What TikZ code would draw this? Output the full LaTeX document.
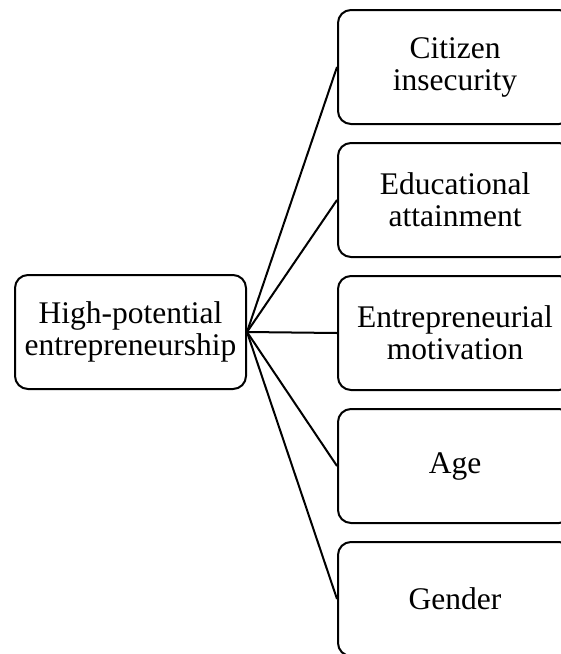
\documentclass[tikz,border=0pt]{standalone}
\usepackage{fontspec}
\setmainfont{Liberation Serif}
\usetikzlibrary{calc, positioning}
\tikzset{
  factor/.style={draw, line width=2pt, rounded corners=13pt, inner sep=4pt,
    minimum width=234pt, minimum height=114pt, align=center,
    font=\fontsize{31.5}{32}\selectfont},
  link/.style={line width=2pt},
}
\begin{document}
\begin{tikzpicture}[x=1pt,y=1pt]
    \useasboundingbox (0,0) rectangle (561,-654);
    \clip (0,0) rectangle (561,-654);

    % outcome on the left
    \node[factor, minimum width=231pt] (hpe) at (130.5,-332) {High-potential\\entrepreneurship};

    % determinants on the right
    \foreach \i/\txt in {1/{Citizen\\insecurity}, 2/{Educational\\attainment},
                         3/{Entrepreneurial\\motivation}, 4/{Age}, 5/{Gender}} {
        \node[factor] (f\i) at (455,{-67-133*(\i-1)}) {\txt};
        \draw[link] (hpe.east) -- (f\i.west);
    }
\end{tikzpicture}
\end{document}
